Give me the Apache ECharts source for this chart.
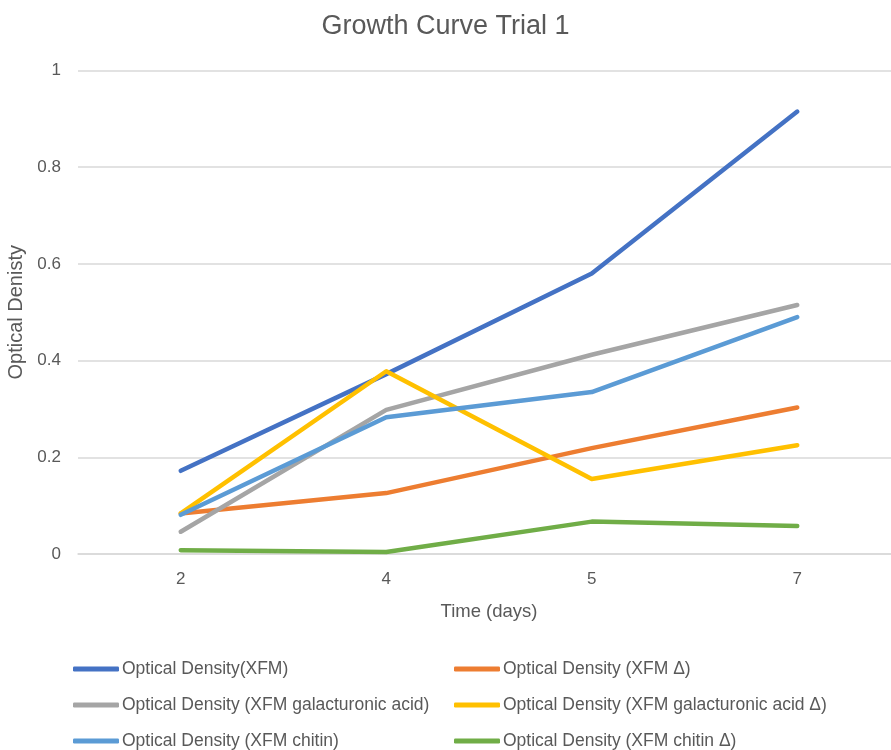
<!DOCTYPE html>
<html>
<head>
<meta charset="utf-8">
<script src="https://cdn.jsdelivr.net/npm/echarts@6/dist/echarts.min.js"></script>
<style>
  html, body { margin: 0; padding: 0; background: #fff; }
  #chart { width: 891px; height: 750px; }
</style>
</head>
<body>
<div id="chart"></div>
<script>
// Sampling days (category axis)
const days = ['2', '4', '5', '7'];

// Optical density readings per medium
const odXFM            = [0.172, 0.372, 0.580, 0.915];
const odXFMDelta       = [0.084, 0.126, 0.219, 0.303];
const odGalact         = [0.046, 0.298, 0.412, 0.515];
const odGalactDelta    = [0.084, 0.378, 0.155, 0.225];
const odChitin         = [0.081, 0.283, 0.335, 0.490];
const odChitinDelta    = [0.008, 0.004, 0.067, 0.058];

const seriesNames = [
  'Optical Density(XFM)',
  'Optical Density (XFM \u0394)',
  'Optical Density (XFM galacturonic acid)',
  'Optical Density (XFM galacturonic acid \u0394)',
  'Optical Density (XFM chitin)',
  'Optical Density (XFM chitin \u0394)'
];
const seriesData = [odXFM, odXFMDelta, odGalact, odGalactDelta, odChitin, odChitinDelta];
const palette = ['#4472C4', '#ED7D31', '#A5A5A5', '#FFC000', '#5B9BD5', '#70AD47'];

const textColor = '#595959';
const fontFamily = '"Liberation Sans", Arial, sans-serif';

const chart = echarts.init(document.getElementById('chart'));
chart.setOption({
  animation: false,
  color: palette,
  title: {
    text: 'Growth Curve Trial 1',
    left: 'center',
    top: 8,
    textStyle: { color: textColor, fontSize: 27, fontWeight: 'normal', fontFamily: fontFamily }
  },
  // plot area runs a little past the right edge of the canvas
  grid: { left: 78, width: 822, top: 70.5, bottom: 196, outerBoundsMode: 'none', containLabel: false },
  xAxis: {
    type: 'category',
    data: days,
    boundaryGap: true,
    name: 'Time (days)',
    nameLocation: 'middle',
    nameGap: 48,
    nameTextStyle: { color: textColor, fontSize: 18.5, fontFamily: fontFamily },
    axisLine: { lineStyle: { color: '#d9d9d9', width: 1.5 } },
    axisTick: { show: false },
    axisLabel: { color: textColor, fontSize: 17, margin: 17, fontFamily: fontFamily }
  },
  yAxis: {
    type: 'value',
    min: 0,
    max: 1,
    interval: 0.2,
    name: 'Optical Denisty',
    nameLocation: 'middle',
    nameGap: 50,
    nameTextStyle: { color: textColor, fontSize: 20, fontFamily: fontFamily },
    axisLine: { show: false },
    axisTick: { show: false },
    axisLabel: { color: textColor, fontSize: 17, margin: 17, fontFamily: fontFamily },
    splitLine: { lineStyle: { color: '#d9d9d9', width: 1.5 } }
  },
  legend: {
    left: 73,
    top: 656,
    width: 800,
    padding: 0,
    itemWidth: 46,
    itemHeight: 5,
    itemGap: 10,
    icon: 'roundRect',
    data: seriesNames,
    textStyle: {
      color: textColor,
      fontSize: 17.5,
      fontFamily: fontFamily,
      width: 322,
      lineHeight: 26,
      padding: [0, 0, 0, -2]
    }
  },
  series: seriesNames.map((name, i) => ({
    name: name,
    type: 'line',
    data: seriesData[i],
    showSymbol: false,
    symbol: 'none',
    lineStyle: { width: 4.5, cap: 'round', join: 'round' }
  }))
});
</script>
</body>
</html>
